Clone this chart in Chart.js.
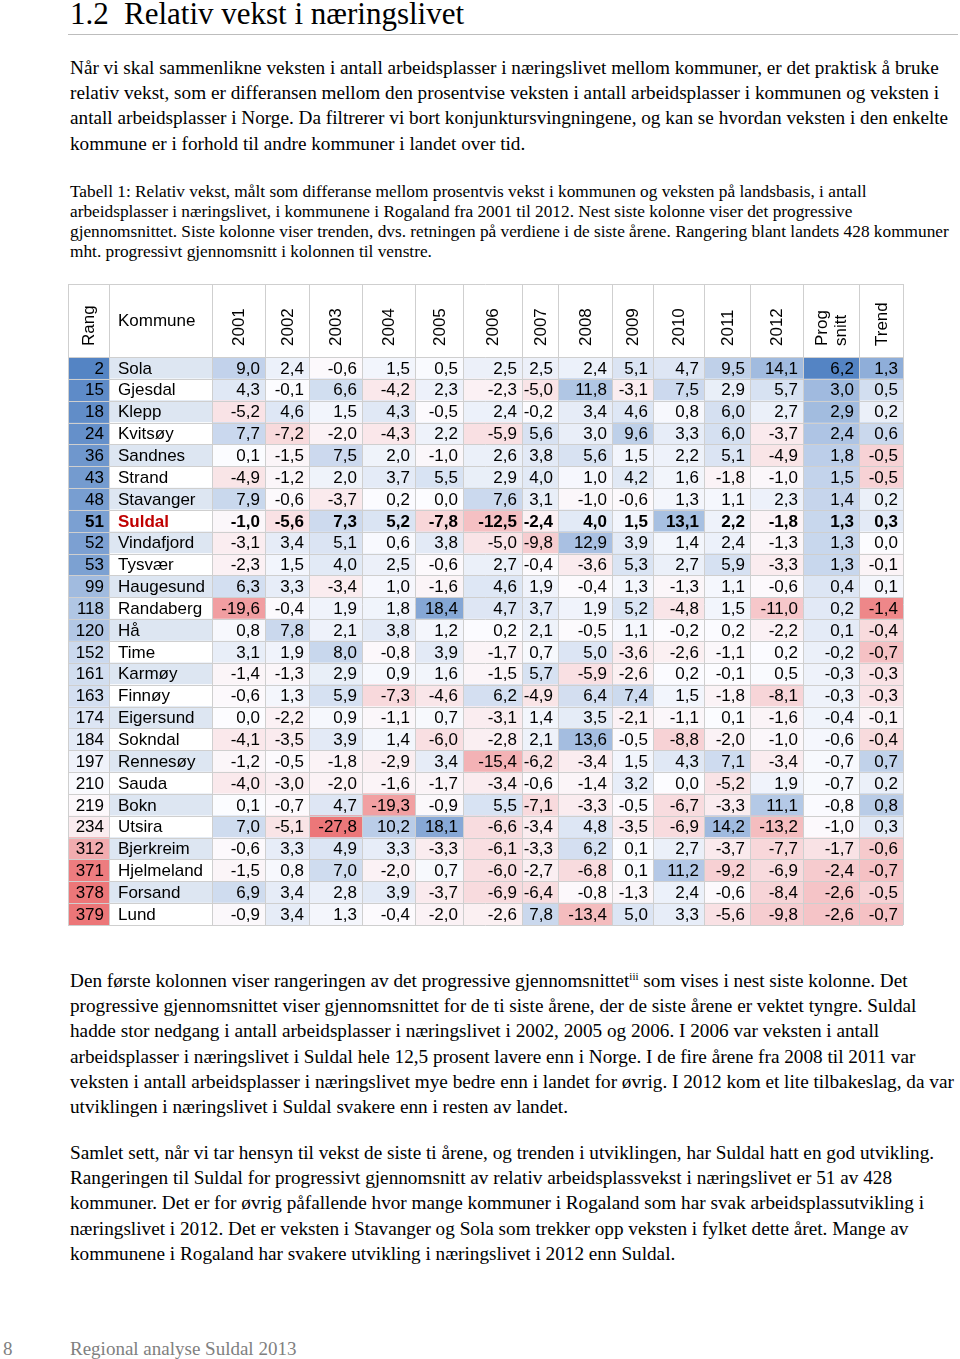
<!DOCTYPE html>
<html lang="no">
<head>
  <meta charset="UTF-8" />
  <title>Relativ vekst i næringslivet</title>
  <script src="https://cdn.jsdelivr.net/npm/chart.js"></script>
  <style>
    * {
      box-sizing: border-box;
      margin: 0;
      padding: 0;
    }

    body {
      width: 960px;
      height: 1359px;
      position: relative;
      overflow: hidden;
      background: #fff;
      color: #000;
      font-family: 'Liberation Serif', 'Times New Roman', Times, serif;
    }

    h1 {
      position: absolute;
      left: 70px;
      top: -2px;
      font-weight: normal;
      font-size: 31px;
      line-height: 31px;
      white-space: nowrap;
    }

    h1 .num {
      display: inline-block;
      width: 54px;
    }

    .rule {
      position: absolute;
      left: 68px;
      top: 34px;
      width: 890px;
      height: 1px;
      background: #bdbdbd;
    }

    .blk {
      position: absolute;
      left: 70px;
      white-space: nowrap;
    }

    .body {
      font-size: 19.23px;
      line-height: 25.2px;
    }

    .caption {
      font-size: 17.3px;
      line-height: 20px;
    }

    sup {
      font-size: 11px;
      line-height: 0;
      vertical-align: 7px;
    }

    .footer {
      color: #808080;
      font-size: 19px;
      line-height: 25px;
    }

    #tableBox {
      position: absolute;
      left: 60px;
      top: 280px;
      width: 850px;
      height: 650px;
    }
  </style>
</head>

<body>
  <h1><span class="num">1.2</span>Relativ vekst i næringslivet</h1>
  <div class="rule"></div>

  <div class="blk body" style="top:55px">
    Når vi skal sammenlikne veksten i antall arbeidsplasser i næringslivet mellom kommuner, er det praktisk å bruke<br>
    relativ vekst, som er differansen mellom den prosentvise veksten i antall arbeidsplasser i kommunen og veksten i<br>
    antall arbeidsplasser i Norge. Da filtrerer vi bort konjunktursvingningene, og kan se hvordan veksten i den enkelte<br>
    kommune er i forhold til andre kommuner i landet over tid.
  </div>

  <div class="blk caption" style="top:182px">
    Tabell 1: Relativ vekst, målt som differanse mellom prosentvis vekst i kommunen og veksten på landsbasis, i antall<br>
    arbeidsplasser i næringslivet, i kommunene i Rogaland fra 2001 til 2012. Nest siste kolonne viser det progressive<br>
    gjennomsnittet. Siste kolonne viser trenden, dvs. retningen på verdiene i de siste årene. Rangering blant landets 428 kommuner<br>
    mht. progressivt gjennomsnitt i kolonnen til venstre.
  </div>

  <div id="tableBox"><canvas id="tableChart" width="850" height="650"></canvas></div>

  <div class="blk body" style="top:968px">
    Den første kolonnen viser rangeringen av det progressive gjennomsnittet<sup>iii</sup> som vises i nest siste kolonne. Det<br>
    progressive gjennomsnittet viser gjennomsnittet for de ti siste årene, der de siste årene er vektet tyngre. Suldal<br>
    hadde stor nedgang i antall arbeidsplasser i næringslivet i 2002, 2005 og 2006. I 2006 var veksten i antall<br>
    arbeidsplasser i næringslivet i Suldal hele 12,5 prosent lavere enn i Norge. I de fire årene fra 2008 til 2011 var<br>
    veksten i antall arbeidsplasser i næringslivet mye bedre enn i landet for øvrig. I 2012 kom et lite tilbakeslag, da var<br>
    utviklingen i næringslivet i Suldal svakere enn i resten av landet.
  </div>

  <div class="blk body" style="top:1140px">
    Samlet sett, når vi tar hensyn til vekst de siste ti årene, og trenden i utviklingen, har Suldal hatt en god utvikling.<br>
    Rangeringen til Suldal for progressivt gjennomsnitt av relativ arbeidsplassvekst i næringslivet er 51 av 428<br>
    kommuner. Det er for øvrig påfallende hvor mange kommuner i Rogaland som har svak arbeidsplassutvikling i<br>
    næringslivet i 2012. Det er veksten i Stavanger og Sola som trekker opp veksten i fylket dette året. Mange av<br>
    kommunene i Rogaland har svakere utvikling i næringslivet i 2012 enn Suldal.
  </div>

  <div class="blk footer" style="top:1336px; left:3px">8</div>
  <div class="blk footer" style="top:1336px">Regional analyse Suldal 2013</div>

  <script>
    // --- data ---
    const kommuner = ['Sola', 'Gjesdal', 'Klepp', 'Kvitsøy', 'Sandnes', 'Strand', 'Stavanger', 'Suldal',
      'Vindafjord', 'Tysvær', 'Haugesund', 'Randaberg', 'Hå', 'Time', 'Karmøy', 'Finnøy', 'Eigersund',
      'Sokndal', 'Rennesøy', 'Sauda', 'Bokn', 'Utsira', 'Bjerkreim', 'Hjelmeland', 'Forsand', 'Lund'];
    const rang = [2, 15, 18, 24, 36, 43, 48, 51, 52, 53, 99, 118, 120, 152, 161, 163, 174, 184, 197, 210,
      219, 234, 312, 371, 378, 379];
    const years = ['2001', '2002', '2003', '2004', '2005', '2006', '2007', '2008', '2009', '2010', '2011', '2012'];

    const v2001 = [9.0, 4.3, -5.2, 7.7, 0.1, -4.9, 7.9, -1.0, -3.1, -2.3, 6.3, -19.6, 0.8, 3.1, -1.4, -0.6, 0.0, -4.1, -1.2, -4.0, 0.1, 7.0, -0.6, -1.5, 6.9, -0.9];
    const v2002 = [2.4, -0.1, 4.6, -7.2, -1.5, -1.2, -0.6, -5.6, 3.4, 1.5, 3.3, -0.4, 7.8, 1.9, -1.3, 1.3, -2.2, -3.5, -0.5, -3.0, -0.7, -5.1, 3.3, 0.8, 3.4, 3.4];
    const v2003 = [-0.6, 6.6, 1.5, -2.0, 7.5, 2.0, -3.7, 7.3, 5.1, 4.0, -3.4, 1.9, 2.1, 8.0, 2.9, 5.9, 0.9, 3.9, -1.8, -2.0, 4.7, -27.8, 4.9, 7.0, 2.8, 1.3];
    const v2004 = [1.5, -4.2, 4.3, -4.3, 2.0, 3.7, 0.2, 5.2, 0.6, 2.5, 1.0, 1.8, 3.8, -0.8, 0.9, -7.3, -1.1, 1.4, -2.9, -1.6, -19.3, 10.2, 3.3, -2.0, 3.9, -0.4];
    const v2005 = [0.5, 2.3, -0.5, 2.2, -1.0, 5.5, 0.0, -7.8, 3.8, -0.6, -1.6, 18.4, 1.2, 3.9, 1.6, -4.6, 0.7, -6.0, 3.4, -1.7, -0.9, 18.1, -3.3, 0.7, -3.7, -2.0];
    const v2006 = [2.5, -2.3, 2.4, -5.9, 2.6, 2.9, 7.6, -12.5, -5.0, 2.7, 4.6, 4.7, 0.2, -1.7, -1.5, 6.2, -3.1, -2.8, -15.4, -3.4, 5.5, -6.6, -6.1, -6.0, -6.9, -2.6];
    const v2007 = [2.5, -5.0, -0.2, 5.6, 3.8, 4.0, 3.1, -2.4, -9.8, -0.4, 1.9, 3.7, 2.1, 0.7, 5.7, -4.9, 1.4, 2.1, -6.2, -0.6, -7.1, -3.4, -3.3, -2.7, -6.4, 7.8];
    const v2008 = [2.4, 11.8, 3.4, 3.0, 5.6, 1.0, -1.0, 4.0, 12.9, -3.6, -0.4, 1.9, -0.5, 5.0, -5.9, 6.4, 3.5, 13.6, -3.4, -1.4, -3.3, 4.8, 6.2, -6.8, -0.8, -13.4];
    const v2009 = [5.1, -3.1, 4.6, 9.6, 1.5, 4.2, -0.6, 1.5, 3.9, 5.3, 1.3, 5.2, 1.1, -3.6, -2.6, 7.4, -2.1, -0.5, 1.5, 3.2, -0.5, -3.5, 0.1, 0.1, -1.3, 5.0];
    const v2010 = [4.7, 7.5, 0.8, 3.3, 2.2, 1.6, 1.3, 13.1, 1.4, 2.7, -1.3, -4.8, -0.2, -2.6, 0.2, 1.5, -1.1, -8.8, 4.3, 0.0, -6.7, -6.9, 2.7, 11.2, 2.4, 3.3];
    const v2011 = [9.5, 2.9, 6.0, 6.0, 5.1, -1.8, 1.1, 2.2, 2.4, 5.9, 1.1, 1.5, 0.2, -1.1, -0.1, -1.8, 0.1, -2.0, 7.1, -5.2, -3.3, 14.2, -3.7, -9.2, -0.6, -5.6];
    const v2012 = [14.1, 5.7, 2.7, -3.7, -4.9, -1.0, 2.3, -1.8, -1.3, -3.3, -0.6, -11.0, -2.2, 0.2, 0.5, -8.1, -1.6, -1.0, -3.4, 1.9, 11.1, -13.2, -7.7, -6.9, -8.4, -9.8];
    const progSnitt = [6.2, 3.0, 2.9, 2.4, 1.8, 1.5, 1.4, 1.3, 1.3, 1.3, 0.4, 0.2, 0.1, -0.2, -0.3, -0.3, -0.4, -0.6, -0.7, -0.7, -0.8, -1.0, -1.7, -2.4, -2.6, -2.6];
    const trend = [1.3, 0.5, 0.2, 0.6, -0.5, -0.5, 0.2, 0.3, 0.0, -0.1, 0.1, -1.4, -0.4, -0.7, -0.3, -0.3, -0.1, -0.4, 0.7, 0.2, 0.8, 0.3, -0.6, -0.7, -0.5, -0.7];
    const highlight = 'Suldal';

    // --- layout / colours ---
    const yearValues = [v2001, v2002, v2003, v2004, v2005, v2006, v2007, v2008, v2009, v2010, v2011, v2012];
    const yearWidths = [53, 44, 53, 53, 48, 59, 36, 54, 41, 51, 46, 53];
    const headerHeight = 73;
    const gridColor = '#cfcfcf';
    const stripe = 'rgb(221,230,242)';
    const BLUE = [84, 132, 196], WHITE = [252, 252, 255], RED = [236, 118, 120];

    const domains = {
      rank: { red: 379, mid: 214, blue: 2 },
      year: { red: -28, mid: 0, blue: 26 },
      prog: { red: -5, mid: -0.9, blue: 6.2 },
      trend: { red: -1.6, mid: 0, blue: 2.0 }
    };

    function mix(a, b, t) {
      return 'rgb(' + a.map((c, i) => Math.round(c + (b[i] - c) * t)).join(',') + ')';
    }

    function cellColor(v, d) {
      const tb = (v - d.mid) / (d.blue - d.mid);
      if (tb >= 0) return mix(WHITE, BLUE, Math.min(1, tb));
      const tr = (v - d.mid) / (d.red - d.mid);
      return mix(WHITE, RED, Math.min(1, tr));
    }

    const fmt = v => v.toFixed(1).replace('.', ',');

    const columns = [
      { header: ['Rang'], values: rang, width: 41, kind: 'rank' },
      { header: ['Kommune'], values: kommuner, width: 103, kind: 'name' },
      ...years.map((y, i) => ({ header: [y], values: yearValues[i], width: yearWidths[i], kind: 'year' })),
      { header: ['Prog', 'snitt'], values: progSnitt, width: 56, kind: 'prog' },
      { header: ['Trend'], values: trend, width: 44, kind: 'trend' }
    ];
    const totalWidth = columns.reduce((s, c) => s + c.width, 0);

    function colors(col) {
      if (col.kind === 'name') return kommuner.map((k, i) => (i % 2 === 0 ? stripe : '#ffffff'));
      return col.values.map(v => cellColor(v, domains[col.kind]));
    }

    const tablePlugin = {
      id: 'tableText',
      afterDatasetsDraw(chart) {
        const { ctx, chartArea } = chart;
        const top = chartArea.top - headerHeight;
        const px = v => Math.round(v) + 0.5;
        ctx.save();

        // grid lines
        ctx.strokeStyle = gridColor;
        ctx.lineWidth = 1;
        ctx.beginPath();
        chart.getDatasetMeta(0).data.forEach(bar => {
          const y = px(bar.y + bar.height / 2);
          ctx.moveTo(chartArea.left, y);
          ctx.lineTo(chartArea.right, y);
        });
        ctx.moveTo(chartArea.left, px(top));
        ctx.lineTo(chartArea.right, px(top));
        ctx.moveTo(chartArea.left, px(chartArea.top));
        ctx.lineTo(chartArea.right, px(chartArea.top));
        ctx.moveTo(px(chartArea.left), top);
        ctx.lineTo(px(chartArea.left), chartArea.bottom);
        columns.forEach((col, ci) => {
          const b = chart.getDatasetMeta(ci).data[0];
          ctx.moveTo(px(b.x), top);
          ctx.lineTo(px(b.x), chartArea.bottom);
        });
        ctx.stroke();

        // header labels
        ctx.fillStyle = '#000';
        ctx.font = '17px "Liberation Sans", Arial, sans-serif';
        columns.forEach((col, ci) => {
          const b = chart.getDatasetMeta(ci).data[0];
          if (col.kind === 'name') {
            ctx.textAlign = 'left';
            ctx.textBaseline = 'middle';
            ctx.fillText(col.header[0], b.base + 9, top + 37);
            return;
          }
          const cx = (b.base + b.x) / 2;
          const n = col.header.length;
          col.header.forEach((line, li) => {
            ctx.save();
            ctx.translate(cx + (li - (n - 1) / 2) * 19, top + 62);
            ctx.rotate(-Math.PI / 2);
            ctx.textAlign = 'left';
            ctx.textBaseline = 'middle';
            ctx.fillText(line, 0, 1);
            ctx.restore();
          });
        });

        // cell values
        ctx.textBaseline = 'middle';
        columns.forEach((col, ci) => {
          chart.getDatasetMeta(ci).data.forEach((bar, ri) => {
            const bold = kommuner[ri] === highlight;
            ctx.font = (bold ? 'bold ' : '') + '17px "Liberation Sans", Arial, sans-serif';
            const v = col.values[ri];
            if (col.kind === 'name') {
              ctx.fillStyle = bold ? '#c00000' : '#000';
              ctx.textAlign = 'left';
              ctx.fillText(v, bar.base + 9, bar.y + 1);
            } else {
              ctx.fillStyle = '#000';
              ctx.textAlign = 'right';
              ctx.fillText(col.kind === 'rank' ? String(v) : fmt(v), bar.x - 5, bar.y + 1);
            }
          });
        });
        ctx.restore();
      }
    };

    new Chart(document.getElementById('tableChart'), {
      type: 'bar',
      data: {
        labels: kommuner,
        datasets: columns.map(col => ({
          label: col.header.join(' '),
          data: kommuner.map(() => col.width),
          backgroundColor: colors(col),
          borderWidth: 0,
          barPercentage: 1,
          categoryPercentage: 1,
          stack: 'table'
        }))
      },
      options: {
        indexAxis: 'y',
        responsive: false,
        animation: false,
        events: [],
        layout: { padding: { left: 8, right: 850 - 8 - totalWidth, top: 77, bottom: 5 } },
        plugins: { legend: { display: false }, tooltip: { enabled: false } },
        scales: {
          x: { stacked: true, min: 0, max: totalWidth, display: false },
          y: { stacked: true, display: false }
        }
      },
      plugins: [tablePlugin]
    });
  </script>
</body>

</html>
